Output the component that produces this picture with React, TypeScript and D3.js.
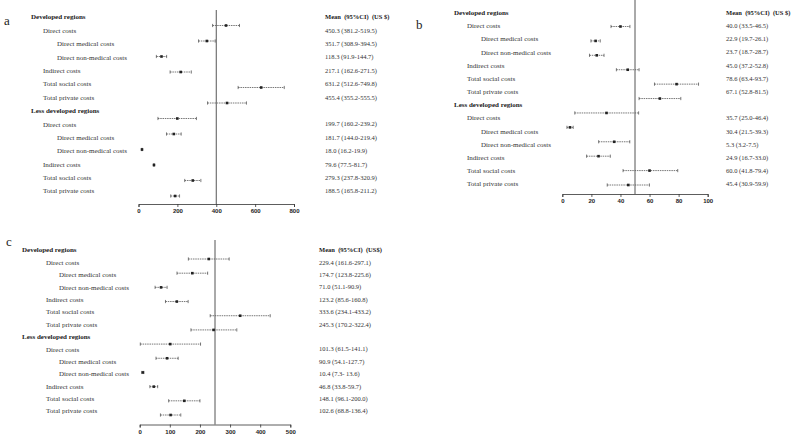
import React, { useEffect, useRef } from "react";
import * as d3 from "d3";

// row labels shared by all three panels
const groupLabels = ["Developed regions", "Less developed regions"];
const rowLabels = [
  "Direct costs",
  "Direct medical costs",
  "Direct non-medical costs",
  "Indirect costs",
  "Total social costs",
  "Total private costs",
];
const rowLevels = [1, 2, 2, 1, 1, 1];

// panel a
const ticksA = [0, 200, 400, 600, 800];
const meanA = [450.3, 351.7, 118.3, 217.1, 631.2, 455.4, 199.7, 181.7, 18.0, 79.6, 279.3, 188.5];
const lowA = [381.2, 308.9, 91.9, 162.6, 512.6, 355.2, 100, 144.0, 16.2, 77.5, 237.8, 165.8];
const highA = [519.5, 394.5, 144.7, 271.5, 749.8, 555.5, 298, 219.4, 19.9, 81.7, 320.9, 211.2];
const textA = [
  "450.3 (381.2-519.5)", "351.7 (308.9-394.5)", "118.3 (91.9-144.7)", "217.1 (162.6-271.5)",
  "631.2 (512.6-749.8)", "455.4 (355.2-555.5)", "199.7 (160.2-239.2)", "181.7 (144.0-219.4)",
  "18.0 (16.2-19.9)", "79.6 (77.5-81.7)", "279.3 (237.8-320.9)", "188.5 (165.8-211.2)",
];

// panel b
const ticksB = [0, 20, 40, 60, 80, 100];
const meanB = [40.0, 22.9, 23.7, 45.0, 78.6, 67.1, 30.4, 5.3, 35.7, 24.9, 60.0, 45.4];
const lowB = [33.5, 19.7, 18.7, 37.2, 63.4, 52.8, 8.6, 3.2, 25.0, 16.7, 41.8, 30.9];
const highB = [46.5, 26.1, 28.7, 52.8, 93.7, 81.5, 52.5, 7.5, 46.4, 33.0, 79.4, 59.9];
const textB = [
  "40.0 (33.5-46.5)", "22.9 (19.7-26.1)", "23.7 (18.7-28.7)", "45.0 (37.2-52.8)",
  "78.6 (63.4-93.7)", "67.1 (52.8-81.5)", "35.7 (25.0-46.4)", "30.4 (21.5-39.3)",
  "5.3 (3.2-7.5)", "24.9 (16.7-33.0)", "60.0 (41.8-79.4)", "45.4 (30.9-59.9)",
];

// panel c
const ticksC = [0, 100, 200, 300, 400, 500];
const meanC = [229.4, 174.7, 71.0, 123.2, 333.6, 245.3, 101.3, 90.9, 10.4, 46.8, 148.1, 102.6];
const lowC = [161.6, 123.8, 51.1, 85.6, 234.1, 170.2, 2, 54.1, 7.3, 33.8, 96.1, 68.8];
const highC = [297.1, 225.6, 90.9, 160.8, 433.2, 322.4, 202, 127.7, 13.6, 59.7, 200.0, 136.4];
const textC = [
  "229.4 (161.6-297.1)", "174.7 (123.8-225.6)", "71.0 (51.1-90.9)", "123.2 (85.6-160.8)",
  "333.6 (234.1-433.2)", "245.3 (170.2-322.4)", "101.3 (61.5-141.1)", "90.9 (54.1-127.7)",
  "10.4 (7.3- 13.6)", "46.8 (33.8-59.7)", "148.1 (96.1-200.0)", "102.6 (68.8-136.4)",
];

interface Panel {
  letter: string;
  ticks: number[];
  refValue: number;
  mean: number[];
  low: number[];
  high: number[];
  text: string[];
  header: string;
  // layout
  letterX: number;
  letterY: number;
  labelX: number[]; // header, level1, level2
  valueX: number;
  lineTop: number;
  lineBottom: number;
  markTop: number;
  markBottom: number;
  axisLeft: number;
  axisRight: number;
  axisY: number;
  refTop: number;
}

const panels: Panel[] = [
  {
    letter: "a", ticks: ticksA, refValue: 400, mean: meanA, low: lowA, high: highA, text: textA,
    header: "Mean  (95%CI)  (US $)",
    letterX: 4, letterY: 25, labelX: [31, 43, 57], valueX: 325,
    lineTop: 17, lineBottom: 191, markTop: 25.5, markBottom: 196,
    axisLeft: 138.5, axisRight: 294, axisY: 204, refTop: 10,
  },
  {
    letter: "b", ticks: ticksB, refValue: 50, mean: meanB, low: lowB, high: highB, text: textB,
    header: "Mean  (95%CI)  (US $)",
    letterX: 416, letterY: 29, labelX: [454, 467, 481], valueX: 726,
    lineTop: 12.5, lineBottom: 184, markTop: 26.5, markBottom: 185,
    axisLeft: 562.3, axisRight: 707.7, axisY: 194, refTop: 0,
  },
  {
    letter: "c", ticks: ticksC, refValue: 250, mean: meanC, low: lowC, high: highC, text: textC,
    header: "Mean  (95%CI)  (US$)",
    letterX: 6, letterY: 246, labelX: [22, 46, 59], valueX: 319,
    lineTop: 250, lineBottom: 411, markTop: 259, markBottom: 415,
    axisLeft: 139.7, axisRight: 290.3, axisY: 424.5, refTop: 240,
  },
];

const serif = "'Liberation Serif', 'Times New Roman', serif";
const sans = "'Liberation Sans', Arial, sans-serif";

export default function App() {
  const svgRef = useRef<SVGSVGElement>(null);

  useEffect(() => {
    const svg = d3.select(svgRef.current);
    svg.selectAll("*").remove();

    svg.append("rect").attr("width", 800).attr("height", 439).attr("fill", "#ffffff");

    panels.forEach((p) => {
      const g = svg.append("g");
      const x = d3
        .scaleLinear()
        .domain([p.ticks[0], p.ticks[p.ticks.length - 1]])
        .range([p.axisLeft, p.axisRight]);

      // 14 text lines: group header + 6 rows, twice
      const lineY = d3.scalePoint<number>().domain(d3.range(14)).range([p.lineTop, p.lineBottom]);
      const markY = d3.scalePoint<number>().domain(d3.range(12)).range([p.markTop, p.markBottom]);
      const rowLine = (i: number) => (i < 6 ? i + 1 : i + 2);

      // panel letter
      g.append("text")
        .attr("x", p.letterX)
        .attr("y", p.letterY)
        .attr("font-family", serif)
        .attr("font-size", "13px")
        .attr("fill", "#222")
        .text(p.letter);

      // group headers
      groupLabels.forEach((lab, k) => {
        g.append("text")
          .attr("x", p.labelX[0])
          .attr("y", lineY(k * 7)!)
          .attr("dy", "0.35em")
          .attr("font-family", serif)
          .attr("font-size", "7px")
          .attr("font-weight", "bold")
          .attr("fill", "#222")
          .text(lab);
      });

      // row labels
      d3.range(12).forEach((i) => {
        const r = i % 6;
        g.append("text")
          .attr("x", p.labelX[rowLevels[r]])
          .attr("y", lineY(rowLine(i))!)
          .attr("dy", "0.35em")
          .attr("font-family", serif)
          .attr("font-size", "7px")
          .attr("fill", "#333")
          .text(rowLabels[r]);
      });

      // value column
      g.append("text")
        .attr("x", p.valueX)
        .attr("y", lineY(0)!)
        .attr("dy", "0.35em")
        .attr("font-family", serif)
        .attr("font-size", "6.5px")
        .attr("font-weight", "bold")
        .attr("fill", "#222")
        .style("white-space", "pre")
        .text(p.header);

      g.selectAll(".val")
        .data(p.text)
        .enter()
        .append("text")
        .attr("x", p.valueX)
        .attr("y", (_d, i) => lineY(rowLine(i))!)
        .attr("dy", "0.35em")
        .attr("font-family", serif)
        .attr("font-size", "6.5px")
        .attr("fill", "#333")
        .text((d) => d);

      // reference line
      g.append("line")
        .attr("x1", x(p.refValue))
        .attr("x2", x(p.refValue))
        .attr("y1", p.refTop)
        .attr("y2", p.axisY)
        .attr("stroke", "#555")
        .attr("stroke-width", 1);

      // error bars
      const rows = d3.range(12);
      g.selectAll(".ci")
        .data(rows)
        .enter()
        .append("line")
        .attr("x1", (i) => x(p.low[i]))
        .attr("x2", (i) => x(p.high[i]))
        .attr("y1", (i) => markY(i)!)
        .attr("y2", (i) => markY(i)!)
        .attr("stroke", "#555")
        .attr("stroke-width", 0.8)
        .attr("stroke-dasharray", "1.5,0.8");

      [p.low, p.high].forEach((arr) => {
        g.selectAll(null)
          .data(rows)
          .enter()
          .append("line")
          .attr("x1", (i) => x(arr[i]))
          .attr("x2", (i) => x(arr[i]))
          .attr("y1", (i) => markY(i)! - 1.6)
          .attr("y2", (i) => markY(i)! + 1.6)
          .attr("stroke", "#444")
          .attr("stroke-width", 0.7);
      });

      g.selectAll(".pt")
        .data(rows)
        .enter()
        .append("rect")
        .attr("x", (i) => x(p.mean[i]) - 1.3)
        .attr("y", (i) => markY(i)! - 1.3)
        .attr("width", 2.6)
        .attr("height", 2.6)
        .attr("fill", "#222");

      // x axis
      const axis = d3.axisBottom(x).tickValues(p.ticks).tickSize(3).tickSizeOuter(3);
      const ax = g
        .append("g")
        .attr("transform", `translate(0,${p.axisY})`)
        .call(axis);
      ax.select(".domain").attr("stroke", "#333").attr("stroke-width", 0.8);
      ax.selectAll(".tick line").attr("stroke", "#333").attr("stroke-width", 0.8);
      ax.selectAll(".tick text")
        .attr("y", 5)
        .attr("font-family", sans)
        .attr("font-size", "6px")
        .attr("font-weight", "bold")
        .attr("fill", "#222");
    });
  }, []);

  return (
    <svg
      ref={svgRef}
      width={800}
      height={439}
      style={{ position: "absolute", left: 0, top: 0, display: "block" }}
    />
  );
}
